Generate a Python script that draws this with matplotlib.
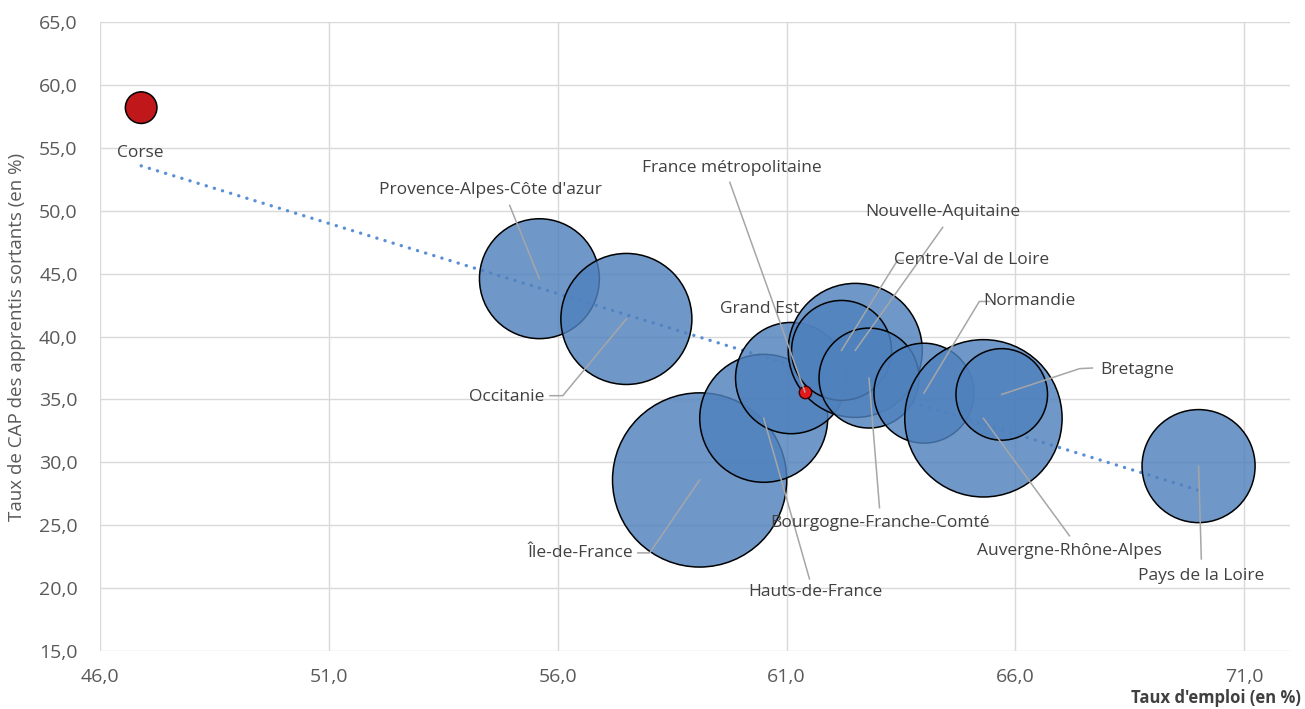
import numpy as np
import matplotlib
matplotlib.use("Agg")
from matplotlib import pyplot as plt
from matplotlib.ticker import FuncFormatter

plt.rcParams['font.family'] = ['Open Sans', 'DejaVu Sans']

# Regions: employment rate, CAP share among apprentices leaving, bubble weight
regions = ['Corse', "Provence-Alpes-Côte d'azur", 'Occitanie', 'Île-de-France',
           'Hauts-de-France', 'Grand Est', 'Nouvelle-Aquitaine',
           'Centre-Val de Loire', 'Bourgogne-Franche-Comté', 'Normandie',
           'Auvergne-Rhône-Alpes', 'Bretagne', 'Pays de la Loire']
taux_emploi = [46.9, 55.6, 57.5, 59.1, 60.5, 61.1, 62.5,
               62.2, 62.8, 64.0, 65.3, 65.7, 70.0]
taux_cap = [58.2, 44.6, 41.4, 28.6, 33.5, 36.7, 38.9,
            38.9, 36.7, 35.5, 33.5, 35.4, 29.7]
poids = [2.5, 36, 43, 76, 41, 31, 45, 25, 25, 25, 62, 21, 32]

france_label = 'France métropolitaine'
france_emploi = 61.4
france_cap = 35.6

# label placement (text centre, then optional leader elbow points)
label_pos = {
    'Corse': ((46.87, 54.57), []),
    "Provence-Alpes-Côte d'azur": ((54.52, 51.62), [(54.95, 50.43)]),
    'Occitanie': ((54.89, 35.22), [(55.83, 35.30), (56.11, 35.30)]),
    'Île-de-France': ((56.50, 22.80), [(57.75, 22.80), (58.01, 22.80)]),
    'Hauts-de-France': ((61.63, 19.70), [(61.50, 20.73)]),
    'Grand Est': ((60.41, 42.23), []),
    'Nouvelle-Aquitaine': ((64.41, 49.87), [(64.41, 48.68)]),
    'Centre-Val de Loire': ((65.04, 46.05), [(63.55, 46.05), (63.42, 46.05)]),
    'Bourgogne-Franche-Comté': ((63.05, 25.19), [(63.03, 26.39)]),
    'Normandie': ((66.31, 42.79), [(65.43, 42.79), (65.21, 42.79)]),
    'Auvergne-Rhône-Alpes': ((67.18, 22.96), [(67.18, 24.16)]),
    'Bretagne': ((68.66, 37.37), [(67.68, 37.50), (67.40, 37.45)]),
    'Pays de la Loire': ((70.06, 20.97), [(70.06, 22.32)]),
    france_label: ((59.80, 53.38), [(59.76, 52.26)]),
}

fig = plt.figure(figsize=(13.05, 7.09), dpi=100)
ax = fig.add_axes([0.0766, 0.0818, 0.912, 0.887])

ax.set_xlim(46, 72)
ax.set_ylim(15, 65)
ax.set_xticks(np.arange(46, 72, 5))
ax.set_yticks(np.arange(15, 66, 5))
fmt = FuncFormatter(lambda v, p: f"{v:.1f}".replace('.', ','))
ax.xaxis.set_major_formatter(fmt)
ax.yaxis.set_major_formatter(fmt)
ax.grid(True, color='#d9d9d9', lw=1)
ax.set_axisbelow(True)
for s in ax.spines.values():
    s.set_visible(False)
ax.tick_params(length=0, labelsize=14, labelcolor='#595959')
ax.tick_params(axis='x', pad=12)
ax.tick_params(axis='y', pad=16)

# linear trend over the regions
x = np.array(taux_emploi)
y = np.array(taux_cap)
a, b = np.polyfit(x, y, 1)
xt = np.array([x.min(), x.max()])
ax.plot(xt, a * xt + b, color='#5a8fd6', lw=2.4,
        linestyle=(0, (0.05, 2.5)), dash_capstyle='round', zorder=1)

# bubbles
blue = (0x4f / 255, 0x81 / 255, 0xbd / 255, 0.82)
colors = ['#c0171b' if r == 'Corse' else blue for r in regions]
ax.scatter(x, y, s=np.array(poids) * 207, c=colors, edgecolors='black',
           linewidths=1.1, zorder=2)
ax.scatter([france_emploi], [france_cap], s=80, c='#e3191c',
           edgecolors='#400000', linewidths=1, zorder=3)

# labels with leader lines
points = dict(zip(regions, zip(taux_emploi, taux_cap)))
points[france_label] = (france_emploi, france_cap)
for name, ((tx, ty), elbow) in label_pos.items():
    ax.text(tx, ty, name, ha='center', va='center', fontsize=12.5,
            color='#404040', zorder=5)
    if elbow:
        px, py = points[name]
        lx = [e[0] for e in elbow] + [px]
        ly = [e[1] for e in elbow] + [py]
        ax.plot(lx, ly, color='#a6a6a6', lw=1.1, zorder=4)

ax.set_ylabel("Taux de CAP des apprentis sortants (en %)", fontsize=13.5,
              color='#595959', labelpad=9)
fig.text(0.997, 0.003, "Taux d'emploi (en %)", ha='right', va='bottom',
         fontsize=12, fontweight='bold', color='#404040')

fig.savefig('out.png', dpi=100)
